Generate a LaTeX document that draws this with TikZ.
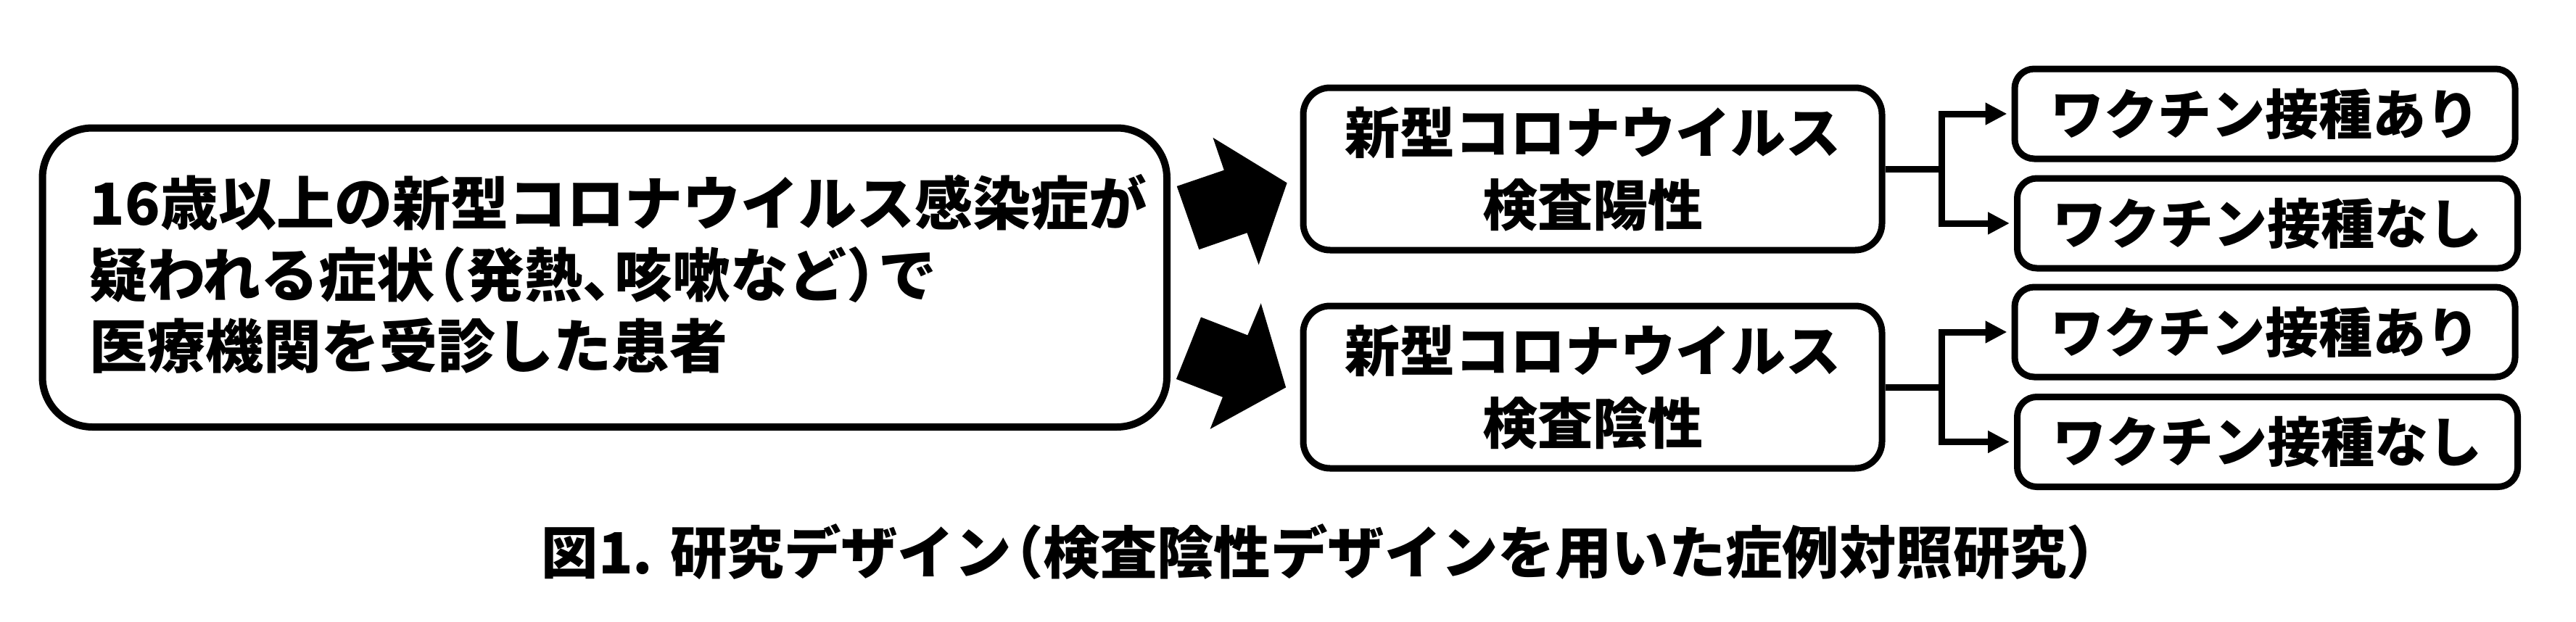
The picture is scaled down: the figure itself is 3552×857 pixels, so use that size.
\documentclass[tikz,border=0pt]{standalone}
\usepackage{fontspec}
\setmainfont{Noto Sans CJK JP}
\usetikzlibrary{arrows.meta}
\begin{document}
\begin{tikzpicture}[x=0.25pt,y=-0.25pt,
  box/.style={draw, line width=2.25pt, rounded corners=9.25pt, inner sep=0pt, align=center},
  mainbox/.style={draw, line width=2.5pt, rounded corners=17.25pt, minimum width=387.625pt, minimum height=103.125pt, inner sep=0pt},
  maintext/.style={anchor=west, inner sep=0pt, align=left, font=\bfseries\fontsize{20}{24.6}\selectfont},
  midbox/.style={box, minimum width=199.5pt, minimum height=56pt, font=\bfseries\fontsize{19}{24.9}\selectfont},
  vacbox/.style={box, rounded corners=6.75pt, minimum width=172.5pt, minimum height=31pt, font=\bfseries\fontsize{18.5}{22}\selectfont},
  conn/.style={line width=2.25pt, -{Triangle[length=7.5pt,width=7.25pt]}, shorten >=1.5pt},
  blockarrow/.style={fill=black},
  captext/.style={anchor=west, inner sep=0pt, font=\bfseries\fontsize{19.6}{24}\selectfont}
]
\useasboundingbox (0,0) rectangle (3552,857);

% main box
\node[mainbox] (main) at (833.75,382.75) {};
\node[maintext] (maintxt) at (123,378) {16歳以上の新型コロナウイルス感染症が\\疑われる症状\makebox[0.55em][r]{（}発熱\makebox[0.55em][l]{、}咳嗽など\makebox[0.55em][l]{）}で\\医療機関を受診した患者};

% test result boxes
\node[midbox] (pos) at (2196,233) {新型コロナウイルス\\検査陽性};
\node[midbox] (neg) at (2196,534) {新型コロナウイルス\\検査陰性};

% vaccination boxes
\node[vacbox] (p1) at (3123,157) {ワクチン接種あり};
\node[vacbox] (p2) at (3126.5,308) {ワクチン接種なし};
\node[vacbox] (n1) at (3123,458) {ワクチン接種あり};
\node[vacbox] (n2) at (3126.5,609.5) {ワクチン接種なし};

% block arrows
\fill[blockarrow] (1622.7,256.9) -- (1687.8,234.7) -- (1672.5,189.9) -- (1774.6,252.3) -- (1735.6,365.2) -- (1719.5,321.2) -- (1653.3,344.2) -- cycle;
\fill[blockarrow] (1656.0,437.5) -- (1720.3,462.4) -- (1738.7,418.4) -- (1773.1,534.4) -- (1668.6,591.8) -- (1685.9,547.8) -- (1621.9,522.9) -- cycle;

% connectors
\coordinate (jp) at (2677,233);
\coordinate (jn) at (2677,534);
\draw[conn] (pos.east) -- (jp) |- (p1.west);
\draw[conn] (pos.east) -- (jp) |- (p2.west);
\draw[conn] (neg.east) -- (jn) |- (n1.west);
\draw[conn] (neg.east) -- (jn) |- (n2.west);

% caption
\node[captext] (cap) at (746,761) {図1. 研究デザイン\makebox[0.56em][r]{（}検査陰性デザインを用いた症例対照研究）};
\end{tikzpicture}
\end{document}
